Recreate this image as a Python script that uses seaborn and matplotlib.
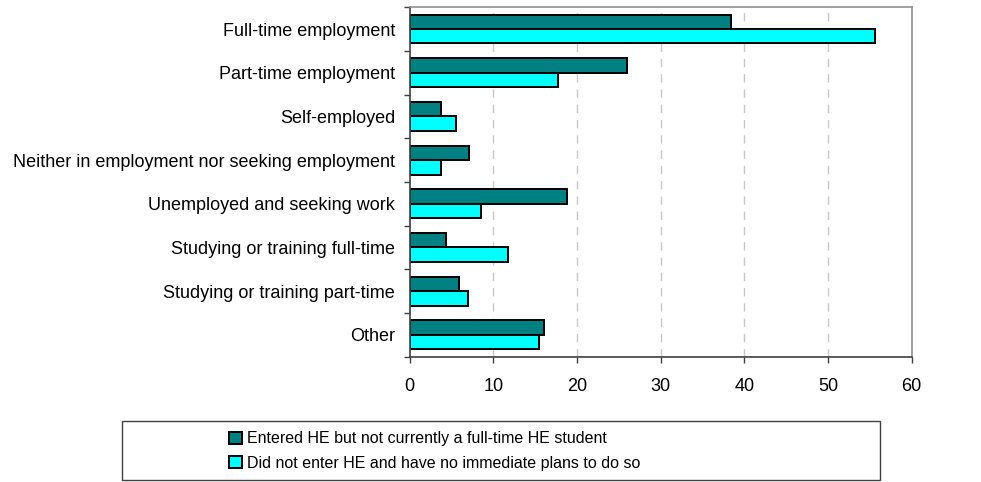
import pandas as pd
import seaborn as sns
import matplotlib.pyplot as plt
from matplotlib.patches import Rectangle

# Destination categories
categories = [
    "Full-time employment",
    "Part-time employment",
    "Self-employed",
    "Neither in employment nor seeking employment",
    "Unemployed and seeking work",
    "Studying or training full-time",
    "Studying or training part-time",
    "Other",
]
series_names = [
    "Entered HE but not currently a full-time HE student",
    "Did not enter HE and have no immediate plans to do so",
]
entered_he = [38.4, 26.0, 3.7, 7.1, 18.8, 4.3, 5.9, 16.1]
no_plans = [55.6, 17.7, 5.5, 3.7, 8.5, 11.7, 7.0, 15.4]
x_ticks = [0, 10, 20, 30, 40, 50, 60]

df = pd.DataFrame({
    "category": categories * 2,
    "value": entered_he + no_plans,
    "group": [series_names[0]] * len(categories) + [series_names[1]] * len(categories),
})

sns.set_style("white")
plt.rcParams['font.family'] = ['Liberation Sans', 'DejaVu Sans']
plt.rcParams['text.color'] = 'black'

fig = plt.figure(figsize=(9.81, 4.82), dpi=100)
ax = fig.add_axes([0.4176, 0.26, 0.5118, 0.725])

sns.barplot(data=df, y="category", x="value", hue="group", orient="h",
            palette=["#008080", "#00FFFF"], saturation=1, edgecolor="black",
            linewidth=1.4, width=0.66, order=categories, hue_order=series_names, ax=ax)

ax.set_xlim(0, 60)
ax.set_ylim(len(categories) - 0.5, -0.5)
ax.set_xticks(x_ticks)
ax.set_xlabel("")
ax.set_ylabel("")

# gridlines
for v in x_ticks[1:-1]:
    ax.axvline(v, color="#c8c8c8", linestyle=(0, (6, 5)), linewidth=1, zorder=0)
ax.set_axisbelow(True)

# category boundary ticks
ax.set_yticks([i - 0.5 for i in range(len(categories) + 1)], minor=True)
ax.tick_params(axis="y", which="major", length=0, pad=10.5, labelsize=13,
               labelcolor="black")
ax.tick_params(axis="y", which="minor", length=4, width=1, color="#404040", left=True)
ax.tick_params(axis="x", which="major", length=4, width=1, color="#404040", pad=11,
               labelsize=13, labelcolor="black", bottom=True)

for s in ["left", "bottom"]:
    ax.spines[s].set_color("#404040")
    ax.spines[s].set_linewidth(1.2)
for s in ["top", "right"]:
    ax.spines[s].set_color("#909090")
    ax.spines[s].set_linewidth(1.2)

# legend below the chart, in a separate box
handles, labels = ax.get_legend_handles_labels()
ax.get_legend().remove()
fig.patches.append(Rectangle((122 / 981, 2 / 482), 758 / 981, 59 / 482,
                             transform=fig.transFigure, fill=False,
                             edgecolor="#404040", linewidth=1))
leg = fig.legend(handles, labels, loc="center left", bbox_to_anchor=(229 / 981, 31 / 482),
                 frameon=False, fontsize=11.5, handlelength=0.8, handleheight=0.8,
                 handletextpad=0.3, labelspacing=0.6, borderpad=0, borderaxespad=0)
for t in leg.get_texts():
    t.set_color("black")

fig.savefig("out.png", dpi=100)
